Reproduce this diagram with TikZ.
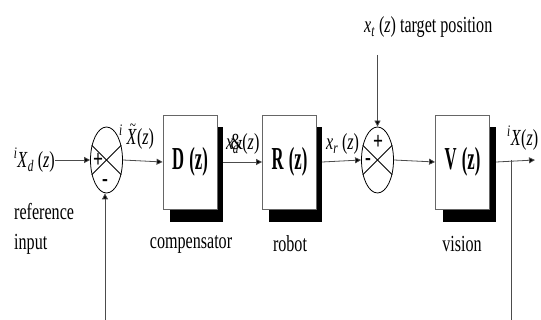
\documentclass[tikz,border=0pt]{standalone}
\usepackage{fontspec}
\setmainfont{Liberation Serif}[FakeStretch=0.7]
\newfontfamily\boxfont{Liberation Serif}[FakeStretch=0.52]
\usetikzlibrary{arrows.meta,shapes.geometric}
\tikzset{
  wire/.style={draw=black!70, line width=0.8pt},
  arr/.style={wire, -{Triangle[length=6pt,width=6pt,fill=black]}},
  blk/.style={draw=black!60, line width=0.8pt, fill=white, minimum width=54pt, minimum height=94pt, inner sep=0pt},
  shad/.style={fill=black, minimum width=53pt, minimum height=95pt, inner sep=0pt},
  sumj/.style={draw=black, line width=0.8pt, ellipse, minimum width=32pt, minimum height=66pt, inner sep=0pt},
  lbl/.style={inner sep=0pt, font=\fontsize{23}{26}\selectfont},
  sgn/.style={inner sep=0pt, font=\fontsize{25}{25}\selectfont\bfseries},
  bxt/.style={font=\boxfont\fontsize{32}{32}\selectfont\bfseries}
}
\begin{document}
\begin{tikzpicture}[x=1pt,y=-1pt]
\useasboundingbox (0,0) rectangle (541,320);
% summing junctions
\node[sumj] (s1) at (106.5,160) {};
\node[sumj] (s2) at (377.5,160) {};
\foreach \s in {s1,s2}{
  \draw[black, line width=0.8pt] (\s.135) -- (\s.-45);
  \draw[black, line width=0.8pt] (\s.45) -- (\s.-135);
}
\node[sgn] at (98,160) {+};
\node[sgn] at (105,183) {-};
\node[sgn] at (378,142) {+};
\node[sgn] at (368,162) {-};
% blocks with shadows
\node[shad] (ds) at (196.5,175) {};
\node[shad] (rs) at (295.5,175) {};
\node[shad] (vs) at (469.5,175) {};
\node[blk] (D) at (190,162) {};
\node[blk] (R) at (289.5,162) {};
\node[blk] (V) at (462.5,162) {};
\node[bxt] at (D) {D\,(z)};
\node[bxt] at (R) {R\,(z)};
\node[bxt] at (V) {V\,(z)};
% labels
\node[lbl, anchor=east] (in) at (55,160) {\textsuperscript{\textit{i}}\textit{X}\textsubscript{\textit{d}}\,(\textit{z})};
\node[lbl, anchor=west] at (119,137) {\textsuperscript{\textit{i}}\,\textit{X}\llap{\raisebox{0.62em}{\fontsize{16}{16}\selectfont\textasciitilde}\kern0.05em}(\textit{z})};
\node[lbl, anchor=west] at (226,144) {\textit{x}\kern-0.12em\&\kern-0.45em\textsubscript{\textit{d}}\kern0.15em(\textit{z})};
\node[lbl, anchor=west] at (326,144) {\textit{x}\textsubscript{\textit{r}}\,(\textit{z})};
\node[lbl, anchor=west] at (507,138) {\textsuperscript{\textit{i}}\textit{X}(\textit{z})};
\node[lbl, anchor=west] (tgt) at (364,27) {\textit{x}\textsubscript{\textit{t}}\,(\textit{z}) target position};
\node[lbl, anchor=west] at (14,212) {reference};
\node[lbl, anchor=west] at (14,244) {input};
\node[lbl] at (191,244) {compensator};
\node[lbl] at (290,244) {robot};
\node[lbl] at (462,244) {vision};
% coordinates
\coordinate (tin) at (377.5,55);
\coordinate (out) at (535,160);
\coordinate (fbr) at (511,160);
\coordinate (fbrb) at (511,320);
\coordinate (fblb) at (105,320);
% connectors
\draw[arr] (in.east) -- (s1.west);
\draw[arr] (s1.east) -- (D.west);
\draw[arr] (D.east -| ds.east) -- (R.west);
\draw[arr] (R.east -| rs.east) -- (s2.west);
\draw[arr] (s2.east) -- (V.west);
\draw[arr] (V.east -| vs.east) -- (out);
\draw[arr] (tin) -- (s2.north);
\draw[wire] (fbr) -- (fbrb);
\draw[arr] (fblb) -- (s1.south -| fblb);
\end{tikzpicture}
\end{document}
